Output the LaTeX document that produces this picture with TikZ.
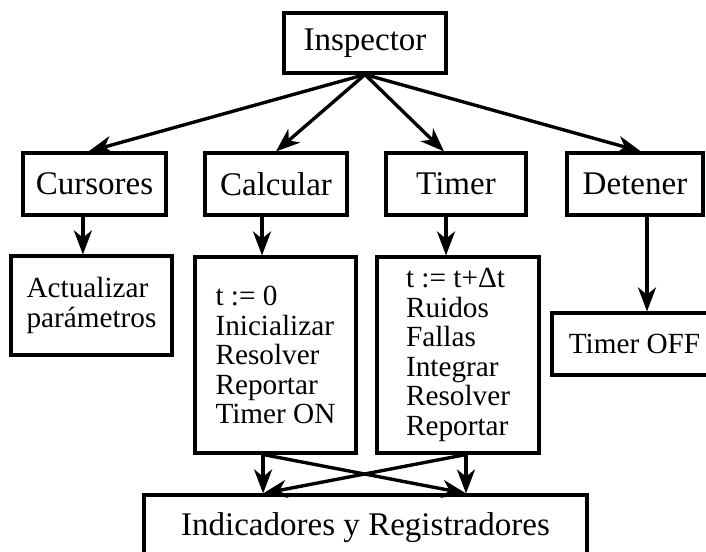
\documentclass[tikz,border=0pt]{standalone}
\usepackage{fontspec}
\setmainfont{Liberation Serif}
\usetikzlibrary{arrows.meta}
\tikzset{
blk/.style={draw,line width=2.2pt,fill=white,inner sep=0pt},
hd/.style={blk,font=\fontsize{23.5}{26}\selectfont},
bd/.style={blk,align=left,font=\fontsize{20.8}{21}\selectfont},
arr/.style={line width=2.4pt,-{Stealth[length=0.6cm,width=0.45cm,inset=0.18cm]}}
}
\begin{document}
\begin{tikzpicture}
\clip (0,0) rectangle (17.65,13.775);
\node[hd,minimum width=4.05cm,minimum height=1.5cm] at (9.125,12.7) (insp){Inspector};
\node[hd,minimum width=3.575cm,minimum height=1.55cm] at (2.3625,9.175) (curs){Cursores};
\node[hd,minimum width=3.55cm,minimum height=1.55cm] at (6.9,9.175) (calc){Calcular};
\node[hd,minimum width=3.5cm,minimum height=1.55cm] at (11.4,9.175) (timer){Timer};
\node[hd,minimum width=3.4cm,minimum height=1.55cm] at (15.875,9.175) (det){Detener};
\node[bd,minimum width=4.025cm,minimum height=2.475cm] at (2.2875,6.1375) (act){Actualizar\\par\'ametros};
\node[bd,minimum width=4.025cm,minimum height=4.9cm] at (6.8875,4.9) (cbody){t := 0\\Inicializar\\Resolver\\Reportar\\Timer ON};
\node[bd,minimum width=4.05cm,minimum height=4.9cm] at (11.45,4.9) (tbody){t := t+Δt\\Ruidos\\Fallas\\Integrar\\Resolver\\Reportar};
\node[bd,minimum width=4.125cm,minimum height=1.55cm] at (15.8625,5.175) (toff){Timer OFF};
\node[hd,minimum width=11.075cm,minimum height=1.625cm] at (9.1375,0.5875) (ind){Indicadores y Registradores};
\foreach \n/\s in {curs/-0.15,calc/0,timer/-0.3,det/0.15}{
\draw[arr] (insp.south) -- ([xshift=\s cm]\n.north);
}
\draw[arr] ([xshift=-0.29cm]curs.south) -- ([xshift=-0.29cm]curs.south |- act.north);
\draw[arr] ([xshift=-0.35cm]calc.south) -- ([xshift=-0.35cm]calc.south |- cbody.north);
\draw[arr] ([xshift=-0.25cm]timer.south) -- ([xshift=-0.25cm]timer.south |- tbody.north);
\draw[arr] ([xshift=0.3cm]det.south) -- ([xshift=0.3cm]det.south |- toff.north);
\draw[arr] ([xshift=-0.31cm]cbody.south) -- ([xshift=-0.31cm]cbody.south |- ind.north);
\draw[arr] ([xshift=0.2cm]tbody.south) -- ([xshift=0.2cm]tbody.south |- ind.north);
\draw[arr] ([xshift=-0.31cm]cbody.south) -- ([xshift=0.2cm]tbody.south |- ind.north);
\draw[arr] ([xshift=0.2cm]tbody.south) -- ([xshift=-0.31cm]cbody.south |- ind.north);
\end{tikzpicture}
\end{document}
